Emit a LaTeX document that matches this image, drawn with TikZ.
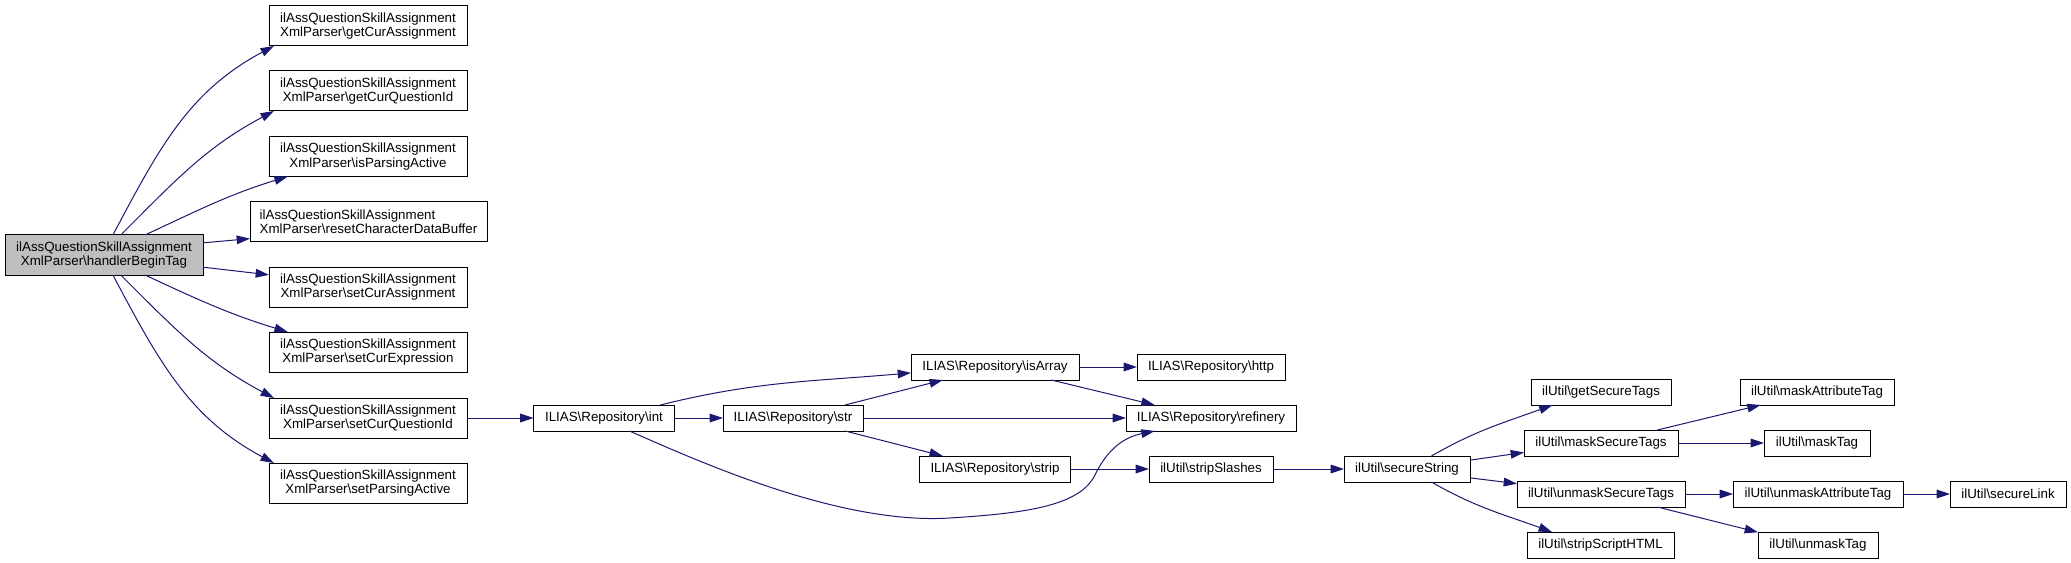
\documentclass[tikz,border=0pt]{standalone}
\usepackage{fontspec}
\setmainfont{Liberation Sans}
\usetikzlibrary{arrows.meta}
\definecolor{edgeblue}{HTML}{191970}
\definecolor{hlgray}{HTML}{BFBFBF}
\newcommand{\bsl}{\textbackslash}
\begin{document}
\begin{tikzpicture}[x=0.75pt,y=-0.75pt,inner sep=0pt,outer sep=0pt,
fn/.style={draw,rectangle,line width=0.75pt,fill=white,minimum width=#1*0.75pt,minimum height=19.5pt,font=\fontsize{10}{10.7}\selectfont,align=center},
fnb/.style={fn=#1,minimum height=30pt},
call/.style={draw=edgeblue,line width=0.75pt,-{Triangle[length=10pt,width=6.5pt]}}]
\useasboundingbox (0,0) rectangle (2071,563);
% caller and the parser methods
\draw (104,255) node[fnb=198,fill=hlgray] (hbt) {ilAssQuestionSkillAssignment\\XmlParser\bsl handlerBeginTag};
\foreach \nm/\yy/\lbl in {gca/26/getCurAssignment,gcq/91/getCurQuestionId,ipa/156.5/isParsingActive,sca/287/setCurAssignment,sce/352/setCurExpression,scq/418/setCurQuestionId,spa/483/setParsingActive}
  \draw (368,\yy) node[fnb=198] (\nm) {ilAssQuestionSkillAssignment\\XmlParser\bsl\lbl};
\draw (368.5,222) node[fnb=237,align=left] (rcdb) {ilAssQuestionSkillAssignment\\XmlParser\bsl resetCharacterDataBuffer};
% repository
\draw (604,418) node[fn=141] (int) {ILIAS\bsl Repository\bsl int};
\draw (793,418) node[fn=140] (str) {ILIAS\bsl Repository\bsl str};
\draw (995,367) node[fn=168] (isa) {ILIAS\bsl Repository\bsl isArray};
\draw (995,469) node[fn=151] (strip) {ILIAS\bsl Repository\bsl strip};
\draw (1211,367) node[fn=148] (http) {ILIAS\bsl Repository\bsl http};
\draw (1211,418) node[fn=170] (ref) {ILIAS\bsl Repository\bsl refinery};
\draw (1211,469) node[fn=124] (ssl) {ilUtil\bsl stripSlashes};
% ilUtil
\draw (1407,469) node[fn=126] (ss) {ilUtil\bsl secureString};
\draw (1601,392) node[fn=140] (gst) {ilUtil\bsl getSecureTags};
\draw (1601,443) node[fn=154] (mst) {ilUtil\bsl maskSecureTags};
\draw (1601,494) node[fn=168] (ust) {ilUtil\bsl unmaskSecureTags};
\draw (1600.5,545) node[fn=147] (ssh) {ilUtil\bsl stripScriptHTML};
\draw (1817,392) node[fn=154] (mat) {ilUtil\bsl maskAttributeTag};
\draw (1817,443) node[fn=106] (mtag) {ilUtil\bsl maskTag};
\draw (1818,494) node[fn=170] (uat) {ilUtil\bsl unmaskAttributeTag};
\draw (1818,545) node[fn=120] (utag) {ilUtil\bsl unmaskTag};
\draw (2008,494) node[fn=116] (sl) {ilUtil\bsl secureLink};
% calls
\draw[call] (hbt.66) to[out=62,in=208] (gca.192);
\draw[call] (hbt.50) to[out=45,in=208] (gcq.192);
\draw[call] (hbt.26) to[out=25,in=197] (ipa.194);
\draw[call] (hbt.7) -- (rcdb.188);
\draw[call] (hbt.-7) -- (sca.173);
\draw[call] (hbt.-26) to[out=-25,in=163] (sce.166);
\draw[call] (hbt.-50) to[out=-45,in=152] (scq.168);
\draw[call] (hbt.-66) to[out=-62,in=152] (spa.168);
\draw[call] (scq) -- (int);
\draw[call] (int.13) to[out=14,in=185] (isa.184);
\draw[call] (int) -- (str);
\draw[call] (int.-27) .. controls (700,462) and (840,525) .. (950,518)
  .. controls (1030,513) and (1080,505) .. (1095,475)
  .. controls (1108,448) and (1125,437) .. (ref.193);
\draw[call] (str.14) -- (isa.194);
\draw[call] (str) -- (ref);
\draw[call] (str.-14) -- (strip.166);
\draw[call] (isa) -- (http);
\draw[call] (isa.-13) -- (ref.167);
\draw[call] (strip) -- (ssl);
\draw[call] (ssl) -- (ss);
\draw[call] (ss.28) to[out=30,in=200] (gst.195);
\draw[call] (ss.8) -- (mst.187);
\draw[call] (ss.-8) -- (ust.173);
\draw[call] (ss.-28) to[out=-30,in=160] (ssh.165);
\draw[call] (mst.13) -- (mat.193);
\draw[call] (mst) -- (mtag);
\draw[call] (ust) -- (uat);
\draw[call] (ust.-13) -- (utag.168);
\draw[call] (uat) -- (sl);
\end{tikzpicture}
\end{document}
